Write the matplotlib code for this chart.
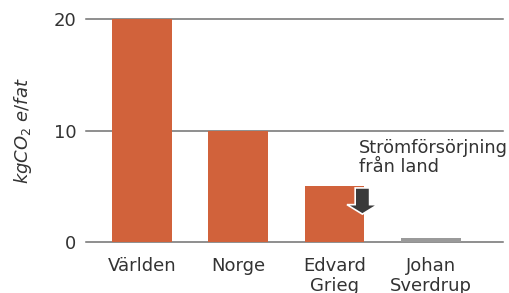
import matplotlib
matplotlib.use("Agg")
import matplotlib.pyplot as plt
from matplotlib.patches import FancyArrow

categories = ["Världen", "Norge", "Edvard\nGrieg", "Johan\nSverdrup"]
values = [20, 10, 5.0, 0.4]
bar_colors = ["#D1623B", "#D1623B", "#D1623B", "#9A9A9A"]
yticks = [0, 10, 20]
ylabel = r"$kgCO_2$ $e/fat$"
note = "Strömförsörjning\nfrån land"

plt.rcParams['font.family'] = ['DejaVu Sans']
plt.rcParams['mathtext.fontset'] = 'dejavusans'
W, H = 510, 293
fig = plt.figure(figsize=(W/100, H/100), dpi=100)
ax = fig.add_axes([86/W, (H-242)/H, (503-86)/W, (242-19)/H])

x = range(len(categories))
ax.bar(x, values, width=0.62, color=bar_colors, zorder=2, edgecolor="none")
for t in yticks:
    ax.axhline(t, color="#707070", lw=1.1, zorder=1, clip_on=False)

ax.set_xlim(-0.58, 3.75)
ax.set_ylim(0, 20)
ax.set_yticks(yticks)
ax.set_xticks(list(x))
ax.set_xticklabels(categories, linespacing=1.12)
ax.tick_params(axis="both", length=0, labelsize=13, colors="#333333")
ax.tick_params(axis="y", pad=7)
ax.tick_params(axis="x", pad=11)
for s in ax.spines.values():
    s.set_visible(False)
ax.set_ylabel(ylabel, fontsize=13, color="#333333", labelpad=14)

arr = FancyArrow(2.29, 4.85, 0, -2.35, width=0.15, head_width=0.32,
                 head_length=0.85, length_includes_head=True,
                 facecolor="#3A3A3A", edgecolor="white", lw=1.2, zorder=3)
ax.add_patch(arr)
ax.text(2.25, 9.25, note, fontsize=12.8, color="#333333", va="top", ha="left",
        linespacing=1.1)

fig.savefig("out.png", dpi=100)
